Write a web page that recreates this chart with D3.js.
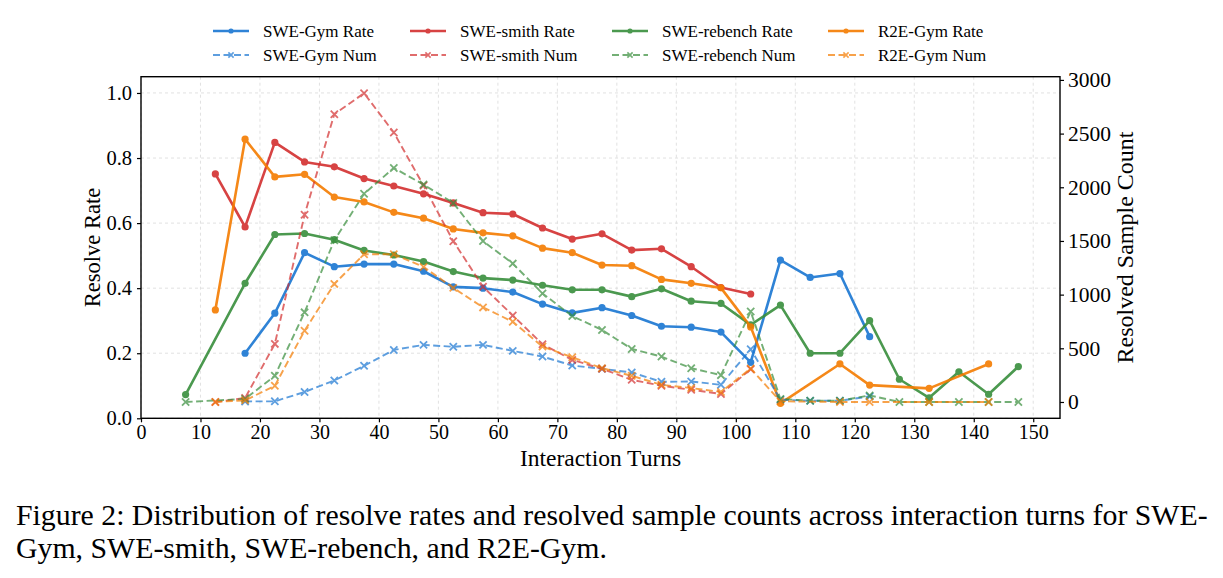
<!DOCTYPE html>
<html>
<head>
<meta charset="utf-8">
<script src="https://cdn.jsdelivr.net/npm/d3@7"></script>
<style>
  body { margin: 0; background: #fff; }
  text { font-family: "Liberation Serif", "DejaVu Serif", serif; fill: #000; }
</style>
</head>
<body>
<div id="chart"></div>
<script>
// bin centres (interaction turns)
const turns = [7.5, 12.5, 17.5, 22.5, 27.5, 32.5, 37.5, 42.5, 47.5, 52.5, 57.5, 62.5, 67.5, 72.5, 77.5,
  82.5, 87.5, 92.5, 97.5, 102.5, 107.5, 112.5, 117.5, 122.5, 127.5, 132.5, 137.5, 142.5, 147.5];

// resolve rates (null = no data in that bin)
const gymRate = [null, null, 0.200, 0.323, 0.509, 0.466, 0.474, 0.474, 0.452, 0.404, 0.400, 0.388, 0.351, 0.324, 0.340,
  0.316, 0.283, 0.280, 0.265, 0.172, 0.486, 0.433, 0.445, 0.251, null, null, null, null, null];
const smithRate = [null, 0.751, 0.588, 0.848, 0.788, 0.773, 0.737, 0.714, 0.690, 0.662, 0.632, 0.628, 0.585, 0.551, 0.567,
  0.517, 0.521, 0.466, 0.402, 0.382, null, null, null, null, null, null, null, null, null];
const rebenchRate = [0.073, null, 0.415, 0.565, 0.568, 0.549, 0.516, 0.502, 0.482, 0.451, 0.431, 0.425, 0.409, 0.395, 0.395,
  0.374, 0.398, 0.360, 0.353, 0.287, 0.348, 0.200, 0.200, 0.300, 0.120, 0.063, 0.143, 0.074, 0.159];
const r2eRate = [null, 0.333, 0.858, 0.742, 0.750, 0.680, 0.665, 0.633, 0.615, 0.582, 0.570, 0.561, 0.523, 0.509, 0.471,
  0.469, 0.427, 0.415, 0.401, 0.281, 0.046, null, 0.167, 0.102, null, 0.092, null, 0.167, null];

// resolved sample counts
const gymNum = [null, null, 5, 6, 93, 200, 337, 485, 532, 514, 532, 476, 423, 340, 309,
  275, 188, 191, 160, 492, 21, 12, 12, 52, null, null, null, null, null];
const smithNum = [null, 0, 37, 541, 1744, 2681, 2876, 2510, 2016, 1498, 1073, 806, 538, 392, 309,
  207, 151, 114, 74, 305, null, null, null, null, null, null, null, null, null];
const rebenchNum = [0, null, 28, 244, 835, 1506, 1939, 2180, 2025, 1854, 1499, 1289, 1011, 800, 671,
  494, 423, 315, 250, 843, 28, 12, 12, 61, 0, 0, 0, 0, 0];
const r2eNum = [null, 0, 15, 151, 664, 1100, 1376, 1376, 1258, 1063, 881, 748, 516, 417, 315,
  244, 160, 130, 93, 312, 6, null, 0, 0, null, 0, null, 0, null];

const names = ["SWE-Gym", "SWE-smith", "SWE-rebench", "R2E-Gym"];
const colors = ["#1976d2", "#d32f2f", "#388e3c", "#f57c00"];
const rates = [gymRate, smithRate, rebenchRate, r2eRate];
const nums = [gymNum, smithNum, rebenchNum, r2eNum];

const xTicks = d3.range(0, 151, 10);
const rateTicks = [0, 0.2, 0.4, 0.6, 0.8, 1.0];
const numTicks = [0, 500, 1000, 1500, 2000, 2500, 3000];

const WIDTH = 1223;
const HEIGHT = 578;
const LEFT = 141;
const RIGHT = 1060;
const TOP = 76.7;
const BOTTOM = 418.3;

const svg = d3
  .select("#chart")
  .append("svg")
  .attr("width", WIDTH)
  .attr("height", HEIGHT)
  .style("background-color", "#fff");

const xScale = d3.scaleLinear().domain([0, 154.5]).range([LEFT, RIGHT]);
const yRate = d3.scaleLinear().domain([0, 1.05]).range([BOTTOM, TOP]);
const yNum = d3.scaleLinear().domain([-152, 3030]).range([BOTTOM, TOP]);

// grid
const grid = svg.append("g").attr("stroke", "#d9d9d9").attr("stroke-width", 0.8).attr("stroke-dasharray", "3,3");
grid.selectAll("line.vx")
  .data(xTicks)
  .enter()
  .append("line")
  .attr("x1", (d) => xScale(d))
  .attr("x2", (d) => xScale(d))
  .attr("y1", TOP)
  .attr("y2", BOTTOM);
grid.selectAll("line.hy")
  .data(rateTicks)
  .enter()
  .append("line")
  .attr("x1", LEFT)
  .attr("x2", RIGHT)
  .attr("y1", (d) => yRate(d))
  .attr("y2", (d) => yRate(d));

function points(vals) {
  return turns.map((t, i) => [t, vals[i]]).filter((p) => p[1] !== null);
}

const rateLine = d3.line().x((d) => xScale(d[0])).y((d) => yRate(d[1]));
const numLine = d3.line().x((d) => xScale(d[0])).y((d) => yNum(d[1]));

// rate lines (primary axis)
rates.forEach((vals, k) => {
  const pts = points(vals);
  const g = svg.append("g").attr("opacity", 0.9);
  g.append("path")
    .attr("d", rateLine(pts))
    .attr("fill", "none")
    .attr("stroke", colors[k])
    .attr("stroke-width", 2.6)
    .attr("stroke-linejoin", "round");
  g.selectAll("circle")
    .data(pts)
    .enter()
    .append("circle")
    .attr("cx", (d) => xScale(d[0]))
    .attr("cy", (d) => yRate(d[1]))
    .attr("r", 3.6)
    .attr("fill", colors[k]);
});

// count lines (secondary axis, drawn on top)
nums.forEach((vals, k) => {
  const pts = points(vals);
  const g = svg.append("g").attr("opacity", 0.7);
  g.append("path")
    .attr("d", numLine(pts))
    .attr("fill", "none")
    .attr("stroke", colors[k])
    .attr("stroke-width", 1.9)
    .attr("stroke-dasharray", "7,3.5");
  g.selectAll("path.mk")
    .data(pts)
    .enter()
    .append("path")
    .attr("d", (d) => {
      const x = xScale(d[0]), y = yNum(d[1]), s = 3.6;
      return `M${x - s},${y - s}L${x + s},${y + s}M${x - s},${y + s}L${x + s},${y - s}`;
    })
    .attr("stroke", colors[k])
    .attr("stroke-width", 1.8);
});

// frame
svg.append("rect")
  .attr("x", LEFT)
  .attr("y", TOP)
  .attr("width", RIGHT - LEFT)
  .attr("height", BOTTOM - TOP)
  .attr("fill", "none")
  .attr("stroke", "#000")
  .attr("stroke-width", 1.4);

// axes
function styleAxis(size) {
  return (g) => {
    g.select(".domain").remove();
    g.selectAll(".tick line").attr("stroke", "#000").attr("stroke-width", 1.2);
    g.selectAll(".tick text").attr("font-family", "Liberation Serif").attr("font-size", size).attr("fill", "#000");
  };
}

svg.append("g")
  .attr("transform", `translate(0, ${BOTTOM})`)
  .call(d3.axisBottom(xScale).tickValues(xTicks).tickSize(4).tickPadding(3).tickFormat(d3.format("d")))
  .call(styleAxis(20));

svg.append("g")
  .attr("transform", `translate(${LEFT}, 0)`)
  .call(d3.axisLeft(yRate).tickValues(rateTicks).tickSize(4).tickPadding(5).tickFormat(d3.format(".1f")))
  .call(styleAxis(20.5));

svg.append("g")
  .attr("transform", `translate(${RIGHT}, 0)`)
  .call(d3.axisRight(yNum).tickValues(numTicks).tickSize(4).tickPadding(4).tickFormat(d3.format("d")))
  .call(styleAxis(21.5));

// axis titles
svg.append("text")
  .attr("x", (LEFT + RIGHT) / 2)
  .attr("y", 466)
  .attr("text-anchor", "middle")
  .attr("font-size", 23.5)
  .text("Interaction Turns");

svg.append("text")
  .attr("transform", `translate(100, ${(TOP + BOTTOM) / 2}) rotate(-90)`)
  .attr("text-anchor", "middle")
  .attr("font-size", 22.5)
  .text("Resolve Rate");

svg.append("text")
  .attr("transform", `translate(1133, ${(TOP + BOTTOM) / 2}) rotate(-90)`)
  .attr("text-anchor", "middle")
  .attr("font-size", 24)
  .text("Resolved Sample Count");

// legend
const legendX = [213, 410, 612, 828];
const legend = svg.append("g");
names.forEach((name, k) => {
  [0, 1].forEach((row) => {
    const y = 31 + row * 24;
    const x0 = legendX[k];
    const g = legend.append("g").attr("opacity", row === 0 ? 0.9 : 0.7);
    g.append("line")
      .attr("x1", x0)
      .attr("x2", x0 + 36)
      .attr("y1", y)
      .attr("y2", y)
      .attr("stroke", colors[k])
      .attr("stroke-width", row === 0 ? 2.6 : 1.9)
      .attr("stroke-dasharray", row === 0 ? null : "7,3.5");
    if (row === 0) {
      g.append("circle").attr("cx", x0 + 18).attr("cy", y).attr("r", 2.6).attr("fill", colors[k]);
    } else {
      const s = 2.6, cx = x0 + 18;
      g.append("path")
        .attr("d", `M${cx - s},${y - s}L${cx + s},${y + s}M${cx - s},${y + s}L${cx + s},${y - s}`)
        .attr("stroke", colors[k])
        .attr("stroke-width", 1.6);
    }
    legend.append("text")
      .attr("x", x0 + 50)
      .attr("y", y + 6)
      .attr("font-size", 17)
      .text(`${name} ${row === 0 ? "Rate" : "Num"}`);
  });
});

// caption
svg.append("text")
  .attr("x", 16)
  .attr("y", 525)
  .attr("font-size", 29.8)
  .text("Figure 2: Distribution of resolve rates and resolved sample counts across interaction turns for SWE-");
svg.append("text")
  .attr("x", 16)
  .attr("y", 558)
  .attr("font-size", 29.8)
  .text("Gym, SWE-smith, SWE-rebench, and R2E-Gym.");
</script>
</body>
</html>
